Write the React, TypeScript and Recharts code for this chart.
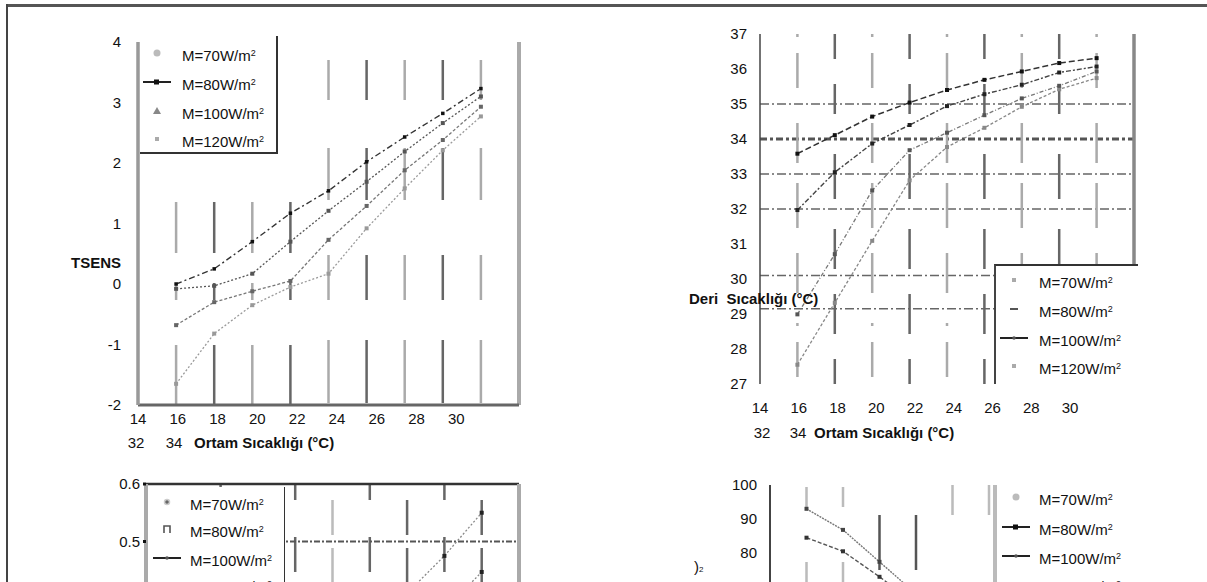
import React from 'react';
import { LineChart, Line, XAxis, YAxis, ReferenceLine } from 'recharts';

// ambient temperature (°C) where the points sit
const ambient = [16, 18, 20, 22, 24, 26, 28, 30, 32];
const axisTicks = [14, 16, 18, 20, 22, 24, 26, 28, 30];

// top-left: TSENS
const tsensTicks = [-2, -1, 0, 1, 2, 3, 4];
const tsens70 = [-1.65, -0.82, -0.35, -0.05, 0.17, 0.92, 1.58, 2.21, 2.77];
const tsens80 = [-0.68, -0.3, -0.12, 0.05, 0.73, 1.29, 1.88, 2.38, 2.93];
const tsens100 = [-0.08, -0.03, 0.17, 0.7, 1.21, 1.69, 2.19, 2.66, 3.1];
const tsens120 = [0.0, 0.25, 0.7, 1.17, 1.54, 2.02, 2.43, 2.82, 3.23];

// top-right: skin temperature
const skinTicks = [27, 28, 29, 30, 31, 32, 33, 34, 35, 36, 37];
const skinGrid = [35, 34, 33, 32, 30.1, 29.15];
const skin70 = [27.55, 29.32, 31.09, 32.82, 33.77, 34.32, 34.92, 35.42, 35.74];
const skin80 = [28.99, 30.71, 32.53, 33.68, 34.18, 34.68, 35.16, 35.52, 35.93];
const skin100 = [31.97, 33.05, 33.87, 34.4, 34.94, 35.28, 35.55, 35.9, 36.07];
const skin120 = [33.58, 34.11, 34.64, 35.04, 35.4, 35.69, 35.93, 36.17, 36.31];

// bottom-left (cut off)
const wetTicks = [0.2, 0.3, 0.4, 0.5, 0.6];
const wet100 = [null, null, null, null, null, null, null, 0.38, 0.447];
const wet120 = [null, null, null, null, null, 0.34, 0.41, 0.475, 0.55];

// bottom-right (cut off)
const rhTicks = [40, 50, 60, 70, 80, 90, 100];
const rh80 = [84.5, 80.5, 73, 65, null, null, null, null, null];
const rh100 = [93, 86.8, 77.4, 68, null, null, null, null, null];

const legendNames = ['M=70W/m', 'M=80W/m', 'M=100W/m', 'M=120W/m'];

type Series = Record<string, (number | null)[]>;
const rows = (s: Series) =>
  ambient.map((x, i) => {
    const r: any = { x };
    Object.keys(s).forEach((k) => (r[k] = s[k][i]));
    return r;
  });

const sq = (fill: string, s = 4) => (p: any) => {
  const k = `d${p.index}`;
  if (p.cy == null || Number.isNaN(p.cy) || p.value == null) return <g key={k} />;
  return <rect key={k} x={p.cx - s / 2} y={p.cy - s / 2} width={s} height={s} fill={fill} />;
};

const tickFont = { fontSize: 15, fill: '#111' };

const bars = (
  list: number[],
  pattern: (x: number, i: number) => string,
  color: (x: number, i: number) => string
) =>
  list.map((x, i) => (
    <ReferenceLine
      key={`v${x}`}
      xAxisId="d"
      x={x}
      stroke={color(x, i)}
      strokeWidth={2.5}
      strokeDasharray={pattern(x, i)}
    />
  ));

type Sym = 'circle' | 'lineSquare' | 'triangle' | 'square' | 'dash' | 'line' | 'star' | 'bracket';

const Symbol = ({ kind }: { kind: Sym }) => (
  <svg width={30} height={14} style={{ position: 'absolute', left: -15, top: -7 }}>
    {kind === 'circle' && <circle cx={15} cy={7} r={3.5} fill="#bbb" />}
    {kind === 'lineSquare' && (
      <g>
        <line x1={1} y1={7} x2={29} y2={7} stroke="#222" strokeWidth={2} />
        <rect x={12} y={4.5} width={5} height={5} fill="#111" />
      </g>
    )}
    {kind === 'triangle' && <polygon points="15,3 19,10 11,10" fill="#888" />}
    {kind === 'square' && <rect x={13} y={5} width={4} height={4} fill="#aaa" />}
    {kind === 'dash' && <line x1={11} y1={7} x2={19} y2={7} stroke="#555" strokeWidth={2} />}
    {kind === 'line' && (
      <g>
        <line x1={1} y1={7} x2={29} y2={7} stroke="#222" strokeWidth={2} />
        <circle cx={15} cy={7} r={1.8} fill="#555" />
      </g>
    )}
    {kind === 'star' && <circle cx={15} cy={7} r={2.5} fill="#666" stroke="#ccc" strokeWidth={1.5} />}
    {kind === 'bracket' && <path d="M12,11 L12,4 L18,4 L18,11" fill="none" stroke="#555" strokeWidth={1.6} />}
  </svg>
);

const Legend = ({
  symX,
  textX,
  ys,
  kinds,
}: {
  symX: number;
  textX: number;
  ys: number[];
  kinds: Sym[];
}) => (
  <>
    {ys.map((y, i) => (
      <React.Fragment key={i}>
        <div style={{ position: 'absolute', left: symX, top: y, width: 0, height: 0 }}>
          <Symbol kind={kinds[i]} />
        </div>
        <div
          style={{
            position: 'absolute',
            left: textX,
            top: y - 9,
            fontSize: 15,
            lineHeight: '18px',
            color: '#111',
            whiteSpace: 'nowrap',
          }}
        >
          {legendNames[i]}
          <span style={{ fontSize: 9, verticalAlign: 5 }}>2</span>
        </div>
      </React.Fragment>
    ))}
  </>
);

const abs = (left: number, top: number, extra: React.CSSProperties = {}): React.CSSProperties => ({
  position: 'absolute',
  left,
  top,
  ...extra,
});

const TsensChart = () => (
  <LineChart
    width={560}
    height={470}
    data={rows({ m70: tsens70, m80: tsens80, m100: tsens100, m120: tsens120 })}
    margin={{ top: 42, right: 41, bottom: 25, left: 78 }}
  >
    <XAxis xAxisId="d" dataKey="x" type="number" domain={[14, 34]} orientation="top" hide />
    <XAxis
      xAxisId="lbl"
      dataKey="x"
      type="number"
      domain={[14, 33.15]}
      allowDataOverflow
      ticks={axisTicks}
      interval={0}
      height={40}
      tickSize={0}
      tickMargin={8}
      tick={tickFont}
      axisLine={{ stroke: '#666', strokeWidth: 3 }}
    />
    <YAxis
      type="number"
      domain={[-2, 4]}
      ticks={tsensTicks}
      interval={0}
      width={60}
      tickSize={0}
      tickMargin={17}
      tick={tickFont}
      axisLine={{ stroke: '#999', strokeWidth: 3.5 }}
    />
    {bars(
      ambient,
      (x) => (x <= 22 ? '0 160 51 30 17 45 70' : '0 18 40 48 52 55 45 40 45'),
      (x, i) => (i % 2 === 1 ? '#666' : '#aaa')
    )}
    <ReferenceLine xAxisId="d" x={34} stroke="#aaa" strokeWidth={4} />
    <Line xAxisId="d" dataKey="m70" stroke="#9a9a9a" strokeWidth={1.3} strokeDasharray="2 2" dot={sq('#999', 4)} isAnimationActive={false} />
    <Line xAxisId="d" dataKey="m80" stroke="#777" strokeWidth={1.3} strokeDasharray="3 2" dot={sq('#666', 4)} isAnimationActive={false} />
    <Line xAxisId="d" dataKey="m100" stroke="#555" strokeWidth={1.3} strokeDasharray="2 2" dot={sq('#555', 4)} isAnimationActive={false} />
    <Line xAxisId="d" dataKey="m120" stroke="#333" strokeWidth={1.4} strokeDasharray="6 3 2 3" dot={sq('#111', 3.5)} isAnimationActive={false} />
  </LineChart>
);

const SkinChart = () => (
  <LineChart
    width={560}
    height={460}
    data={rows({ m70: skin70, m80: skin80, m100: skin100, m120: skin120 })}
    margin={{ top: 34, right: 26, bottom: 36, left: 100 }}
  >
    <XAxis xAxisId="d" dataKey="x" type="number" domain={[14, 34]} orientation="top" hide />
    <XAxis
      xAxisId="lbl"
      dataKey="x"
      type="number"
      domain={[14, 33.3]}
      allowDataOverflow
      ticks={axisTicks}
      interval={0}
      height={40}
      tickSize={0}
      tickMargin={18}
      tick={tickFont}
      axisLine={false}
    />
    <YAxis
      type="number"
      domain={[27, 37]}
      ticks={skinTicks}
      interval={0}
      width={60}
      tickSize={0}
      tickMargin={13}
      tick={tickFont}
      axisLine={{ stroke: '#444', strokeWidth: 1.5 }}
    />
    {skinGrid.map((y) => (
      <ReferenceLine
        key={`h${y}`}
        xAxisId="d"
        y={y}
        stroke={y === 34 ? '#555' : '#666'}
        strokeWidth={y === 34 ? 3 : 1.5}
        strokeDasharray={y === 34 ? '7 3 3 3' : '9 3 2 3'}
      />
    ))}
    {bars(
      ambient,
      (x, i) => (i % 2 === 0 ? '3 16 35 35 40 20 45 25 40 30' : '25 25 30 40 45 30 40 25 40'),
      (x, i) => (i % 2 === 1 ? '#666' : '#aaa')
    )}
    <ReferenceLine xAxisId="d" x={34} stroke="#888" strokeWidth={3.5} />
    <Line xAxisId="d" dataKey="m70" stroke="#888" strokeWidth={1.3} strokeDasharray="3 2" dot={sq('#888', 4)} isAnimationActive={false} />
    <Line xAxisId="d" dataKey="m80" stroke="#777" strokeWidth={1.3} strokeDasharray="4 2 1 2" dot={sq('#555', 4)} isAnimationActive={false} />
    <Line xAxisId="d" dataKey="m100" stroke="#444" strokeWidth={1.4} strokeDasharray="5 2 2 2" dot={sq('#222', 4)} isAnimationActive={false} />
    <Line xAxisId="d" dataKey="m120" stroke="#333" strokeWidth={1.5} strokeDasharray="6 3" dot={sq('#111', 4)} isAnimationActive={false} />
  </LineChart>
);

const WetChart = () => (
  <LineChart
    width={560}
    height={300}
    data={rows({ m100: wet100, m120: wet120 })}
    margin={{ top: 44, right: 41, bottom: 26, left: 86 }}
  >
    <XAxis xAxisId="d" dataKey="x" type="number" domain={[14, 34]} orientation="top" hide />
    <YAxis
      type="number"
      domain={[0.2, 0.6]}
      ticks={wetTicks}
      interval={0}
      width={60}
      tickSize={3}
      tickMargin={3}
      tick={tickFont}
      tickLine={{ stroke: '#111', strokeWidth: 3 }}
      axisLine={{ stroke: '#aaa', strokeWidth: 4 }}
    />
    {bars(
      ambient,
      (x, i) => (i % 2 === 0 ? '0 16 35 13 35 20' : '16 37 35 20'),
      (x, i) => (i % 2 === 0 && x <= 24 ? '#bbb' : '#666')
    )}
    <ReferenceLine xAxisId="d" y={0.6} stroke="#333" strokeWidth={2.5} />
    <ReferenceLine xAxisId="d" y={0.5} stroke="#555" strokeWidth={2} strokeDasharray="6 2 2 2" />
    <ReferenceLine xAxisId="d" x={34} stroke="#aaa" strokeWidth={4} />
    <Line xAxisId="d" dataKey="m100" stroke="#888" strokeWidth={1.3} strokeDasharray="2 2" dot={sq('#222', 4)} isAnimationActive={false} />
    <Line xAxisId="d" dataKey="m120" stroke="#888" strokeWidth={1.3} strokeDasharray="2 2" dot={sq('#222', 4)} isAnimationActive={false} />
  </LineChart>
);

const RhChart = () => (
  <LineChart
    width={560}
    height={300}
    data={rows({ m80: rh80, m100: rh100 })}
    margin={{ top: 45, right: 25, bottom: 51, left: 110 }}
  >
    <XAxis xAxisId="d" dataKey="x" type="number" domain={[14, 34]} orientation="top" hide />
    <YAxis
      type="number"
      domain={[40, 100]}
      ticks={rhTicks}
      interval={0}
      width={60}
      tickSize={0}
      tickMargin={13}
      tick={tickFont}
      axisLine={{ stroke: '#444', strokeWidth: 2 }}
    />
    {bars(
      ambient,
      (x, i) => (i < 2 ? '0 2 20 55 30' : i < 4 ? '0 30 55 30' : '0 0 30 500'),
      (x, i) => (i < 2 || i >= 4 ? '#bbb' : '#555')
    )}
    <ReferenceLine xAxisId="d" x={34} stroke="#bbb" strokeWidth={4} />
    <Line xAxisId="d" dataKey="m80" stroke="#555" strokeWidth={1.4} strokeDasharray="4 2" dot={sq('#333', 4)} isAnimationActive={false} />
    <Line xAxisId="d" dataKey="m100" stroke="#777" strokeWidth={1.4} strokeDasharray="2 1" dot={sq('#444', 4)} isAnimationActive={false} />
  </LineChart>
);

export default function App() {
  const titleBold: React.CSSProperties = { fontSize: 15, fontWeight: 'bold', lineHeight: '18px', whiteSpace: 'nowrap', color: '#111' };
  const num: React.CSSProperties = { fontSize: 15, lineHeight: '18px', color: '#111', width: 30, textAlign: 'center' };
  return (
    <div
      style={{
        position: 'fixed',
        left: 0,
        top: 0,
        width: 1207,
        height: 582,
        overflow: 'hidden',
        background: '#fff',
        fontFamily: '"Liberation Sans", Arial, sans-serif',
      }}
    >
      <div style={abs(0, 0)}>
        <TsensChart />
      </div>
      <div style={abs(600, 0)}>
        <SkinChart />
      </div>
      <div style={abs(0, 440)}>
        <WetChart />
      </div>
      <div style={abs(600, 440)}>
        <RhChart />
      </div>

      {/* top-left legend */}
      <div style={abs(140, 36, { width: 136, height: 116, background: '#fff', borderRight: '2px solid #333', borderBottom: '2px solid #333' })} />
      <Legend symX={157} textX={182} ys={[53, 82, 111, 139]} kinds={['circle', 'lineSquare', 'triangle', 'square']} />
      <div style={abs(71, 254, titleBold)}>TSENS</div>
      <div style={abs(121, 434, num)}>32</div>
      <div style={abs(159, 434, num)}>34</div>
      <div style={abs(194, 434, titleBold)}>Ortam Sıcaklığı (°C)</div>

      {/* top-right legend */}
      <div style={abs(994, 264, { width: 142, height: 118, background: '#fff', borderTop: '2.5px solid #333', borderLeft: '2.5px solid #444' })} />
      <Legend symX={1014} textX={1039} ys={[280, 309, 338, 366]} kinds={['square', 'dash', 'line', 'square']} />
      <div style={abs(689, 290, titleBold)}>Deri&nbsp; Sıcaklığı (°C)</div>
      <div style={abs(747, 424, num)}>32</div>
      <div style={abs(783, 424, num)}>34</div>
      <div style={abs(814, 424, titleBold)}>Ortam Sıcaklığı (°C)</div>

      {/* bottom-left legend */}
      <div style={abs(148, 487, { width: 136, height: 100, background: '#fff', borderRight: '1.5px solid #333' })} />
      <Legend symX={167} textX={190} ys={[502, 529, 558, 584]} kinds={['star', 'bracket', 'line', 'square']} />

      {/* bottom-right legend */}
      <div style={abs(993, 485, { width: 140, height: 100, background: '#fff', borderLeft: '4px solid #bbb' })} />
      <Legend symX={1016} textX={1039} ys={[497, 527, 556, 584]} kinds={['circle', 'lineSquare', 'line', 'square']} />
      <div style={abs(694, 558, { fontSize: 15, lineHeight: '18px', color: '#111' })}>
        )<span style={{ fontSize: 8 }}>2</span>
      </div>

      {/* scan frame */}
      <svg width={1207} height={582} style={{ position: 'absolute', left: 0, top: 0, zIndex: 10, pointerEvents: 'none' }}>
        <line x1={7} y1={5.5} x2={1207} y2={5.5} stroke="#555" strokeWidth={3} />
        <line x1={7} y1={4} x2={7} y2={582} stroke="#444" strokeWidth={2} />
      </svg>
    </div>
  );
}
